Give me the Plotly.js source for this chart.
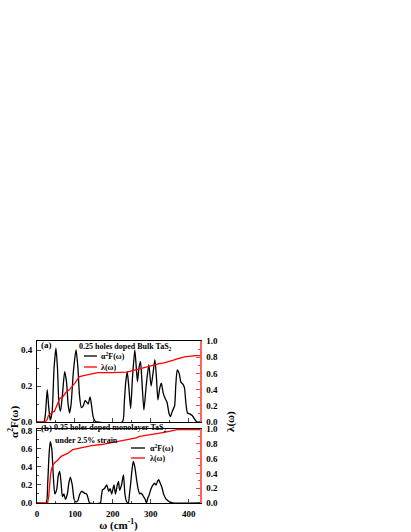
<!DOCTYPE html>
<html>
<head>
<meta charset="utf-8">
<script src="https://cdn.plot.ly/plotly-3.0.1.min.js"></script>
<style>body{margin:0;background:#fff}</style>
</head>
<body>
<div id="chart" style="width:411px;height:532px"></div>
<script>
// (a) 0.25 holes doped bulk TaS2
var omegaA  = [0,18,22,27,31,35,40,45,50,54,58,62,67,73,78,82,86,90,96,103,108,112,117,122,127,131,135,140,144,148,153,158,
               225,230,234,238,242,247,252,258,262,265,269,273,277,282,288,295,301,306,311,315,319,324,328,333,338,343,348,352,357,363,366,370,375,380,385,389,393,397,403,410,416,422,430];
var a2fA    = [0,0,0.04,0.18,0.08,0.01,0.06,0.30,0.41,0.30,0.10,0.06,0.15,0.28,0.22,0.10,0.05,0.10,0.28,0.40,0.30,0.15,0.08,0.09,0.12,0.11,0.10,0.14,0.09,0.03,0.005,0,
               0,0.10,0.22,0.28,0.20,0.075,0.25,0.40,0.30,0.225,0.30,0.337,0.22,0.067,0.20,0.318,0.20,0.27,0.346,0.25,0.123,0.19,0.216,0.16,0.13,0.11,0.05,0.03,0.06,0.09,0.20,0.29,0.27,0.22,0.21,0.19,0.10,0.05,0.045,0.035,0.015,0,0];
var omegaLA = [0,22,27,30,35,40,46,50,55,60,68,77,86,94,100,106,112,120,129,138,147,160,200,225,235,245,253,265,280,290,300,310,323,335,345,358,370,380,389,400,410,419,430];
var lamA    = [0,0,0.03,0.08,0.10,0.12,0.13,0.18,0.25,0.29,0.31,0.37,0.40,0.44,0.48,0.52,0.56,0.57,0.58,0.595,0.605,0.61,0.61,0.61,0.615,0.625,0.635,0.655,0.67,0.68,0.69,0.705,0.72,0.73,0.74,0.76,0.78,0.795,0.805,0.81,0.82,0.82,0.82];

// (b) 0.35 holes doped monolayer TaS2, 2.5% strain
var omegaB  = [0,24,28,32,35,39,43,47,52,56,60,64,67,71,75,80,84,88,93,98,103,108,113,118,125,131,135,139,
               167,170,173,178,184,189,193,197,203,207,212,215,218,223,228,232,236,241,244,247,251,254,258,263,267,271,274,277,281,285,289,292,296,301,306,310,314,318,321,325,329,334,340,349,358,430];
var a2fB    = [0,0,0.20,0.55,0.68,0.60,0.30,0.10,0.15,0.30,0.35,0.20,0.07,0.10,0.04,0.10,0.22,0.287,0.20,0.04,0.01,0.03,0.10,0.13,0.11,0.10,0.05,0,
               0,0.08,0.147,0.16,0.20,0.13,0.16,0.10,0.20,0.10,0.20,0.24,0.14,0.20,0.31,0.10,0.02,0,0.10,0.21,0.38,0.46,0.40,0.25,0.15,0.10,0.11,0.10,0.07,0.045,0,0.05,0.09,0.16,0.20,0.22,0.20,0.24,0.26,0.22,0.18,0.10,0.045,0.015,0,0];
var omegaLB = [0,28,31,33,36,40,46,55,64,72,81,94,111,129,144,170,190,210,231,253,262,271,297,320,336,355,370,430];
var lamB    = [0,0,0.10,0.27,0.40,0.49,0.54,0.58,0.63,0.65,0.67,0.72,0.74,0.76,0.775,0.79,0.81,0.83,0.85,0.87,0.88,0.90,0.92,0.94,0.955,0.975,0.99,0.99];

var serif = 'Liberation Serif, Times New Roman, serif';
var tickFont = {family: serif, size: 9, color: '#000', weight: 'bold'};
var xRange = [0, 430];

var traces = [
  {x: omegaA, y: a2fA, xaxis: 'x2', yaxis: 'y3', type: 'scatter', mode: 'lines',
   line: {color: '#000', width: 1.3, shape: 'spline', smoothing: 0.6}, showlegend: false},
  {x: omegaLA, y: lamA, xaxis: 'x2', yaxis: 'y4', type: 'scatter', mode: 'lines',
   line: {color: '#ff0000', width: 1.3}, showlegend: false},
  {x: omegaB, y: a2fB, xaxis: 'x', yaxis: 'y', type: 'scatter', mode: 'lines',
   line: {color: '#000', width: 1.3, shape: 'spline', smoothing: 0.6}, showlegend: false},
  {x: omegaLB, y: lamB, xaxis: 'x', yaxis: 'y2', type: 'scatter', mode: 'lines',
   line: {color: '#ff0000', width: 1.3}, showlegend: false}
];

function leftAxis(dom, rng) {
  return {domain: dom, range: rng, dtick: 0.2, tickformat: '.1f', ticks: 'inside', ticklen: 4,
          minor: {dtick: 0.1, ticks: 'inside', ticklen: 2}, showline: true, linecolor: '#000',
          linewidth: 1, showgrid: false, zeroline: false, tickfont: tickFont, ticklabelstandoff: 2, fixedrange: true};
}
function rightAxis(over, anchor) {
  return {overlaying: over, anchor: anchor, side: 'right', range: [0, 1.0], dtick: 0.2, tickformat: '.1f',
          ticks: 'inside', ticklen: 4, tickcolor: '#ff4040', minor: {dtick: 0.1, ticks: 'inside', ticklen: 2, tickcolor: '#ff4040'},
          showline: true, linecolor: '#ff6060', linewidth: 1.5, showgrid: false, zeroline: false,
          tickfont: tickFont, ticklabelstandoff: 3, fixedrange: true};
}

// hand-made legend keys (short lines like the original)
function px(x) { return (x - 37) / 163; }
function py(y) { return (503 - y) / 162; }
function key(x0, x1, y, color) {
  return {type: 'line', xref: 'paper', yref: 'paper', x0: px(x0), x1: px(x1), y0: py(y), y1: py(y),
          line: {color: color, width: 1.3}};
}
function label(x, y, text, size, anchor) {
  return {xref: 'paper', yref: 'paper', x: px(x), y: py(y), xanchor: anchor || 'left', yanchor: 'middle',
          showarrow: false, text: text, font: {family: serif, size: size, color: '#000', weight: 'bold'}};
}

var layout = {
  width: 411, height: 532, autosize: false,
  margin: {l: 37, r: 211, t: 341, b: 29},
  paper_bgcolor: '#fff', plot_bgcolor: 'rgba(0,0,0,0)',
  showlegend: false,
  xaxis: {domain: [0, 1], anchor: 'y', range: xRange, dtick: 100, ticks: 'inside', ticklen: 4,
          minor: {dtick: 50, ticks: 'inside', ticklen: 2}, showline: true, mirror: true, linecolor: '#000',
          showgrid: false, zeroline: false, tickfont: tickFont, ticklabelstandoff: 2,
          title: {text: 'ω (cm<sup>-1</sup>)', font: {family: serif, size: 11, color: '#000', weight: 'bold'}, standoff: 2}},
  xaxis2: {domain: [0, 1], anchor: 'y3', range: xRange, dtick: 100, ticks: 'inside', ticklen: 4,
           minor: {dtick: 50, ticks: 'inside', ticklen: 2}, showline: true, mirror: true, linecolor: '#000',
           showgrid: false, zeroline: false, showticklabels: false},
  yaxis: leftAxis([0, 0.457], [0, 0.82]),
  yaxis2: rightAxis('y', 'x'),
  yaxis3: leftAxis([0.5, 1], [0, 0.45]),
  yaxis4: rightAxis('y3', 'x2'),
  shapes: [
    key(84, 97, 356, '#000'),
    key(84, 97, 367, '#ff0000'),
    key(131, 145, 448, '#000'),
    key(131, 145, 458, '#ff0000')
  ],
  annotations: [
    label(99, 356, 'α<sup>2</sup>F(ω)', 8),
    label(99, 367, 'λ(ω)', 8),
    label(148, 448, 'α<sup>2</sup>F(ω)', 8),
    label(148, 458, 'λ(ω)', 8),
    label(39, 345, '(a)', 9),
    label(77, 347, '0.25 holes doped Bulk TaS<sub>2</sub>', 8),
    label(39, 428, '(b)', 9),
    label(52, 428, '0.35 holes doped monolayer TaS<sub>2</sub>', 8),
    label(53, 440, 'under 2.5% strain', 8),
    {xref: 'paper', yref: 'paper', x: px(13), y: 0.5, xanchor: 'center', yanchor: 'middle', showarrow: false, textangle: -90,
     text: 'α<sup>2</sup>F(ω)', font: {family: serif, size: 11, color: '#000', weight: 'bold'}},
    {xref: 'paper', yref: 'paper', x: px(230), y: 0.5, xanchor: 'center', yanchor: 'middle', showarrow: false, textangle: -90,
     text: 'λ(ω)', font: {family: serif, size: 11, color: '#000', weight: 'bold'}}
  ]
};

Plotly.newPlot('chart', traces, layout, {displayModeBar: false, staticPlot: true});
</script>
</body>
</html>
